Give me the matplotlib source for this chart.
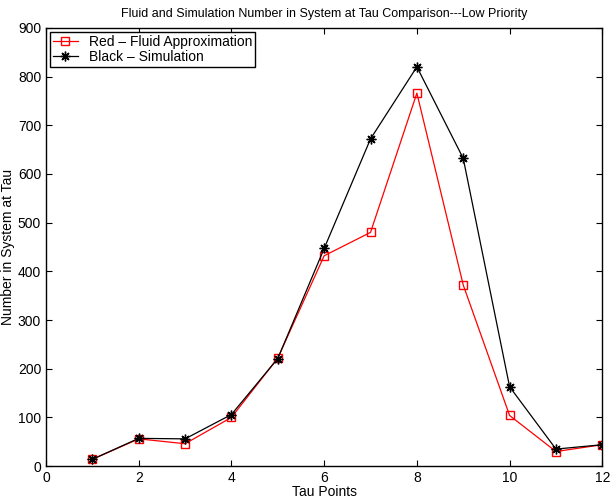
import matplotlib
matplotlib.use('Agg')
import matplotlib.pyplot as plt

plt.rcParams['font.family'] = ['Liberation Sans', 'DejaVu Sans']

tau = [1, 2, 3, 4, 5, 6, 7, 8, 9, 10, 11, 12]
fluid = [14, 56, 46, 100, 222, 432, 480, 766, 372, 104, 30, 44]
sim = [14, 57, 56, 106, 221, 447, 672, 820, 632, 163, 35, 44]

fig = plt.figure(figsize=(6.1, 4.98), dpi=100)
ax = fig.add_axes([0.0754, 0.064, 0.912, 0.88])

ax.plot(tau, fluid, color='red', marker='s', markerfacecolor='none', markersize=6,
        linewidth=0.9, label='Red \u2013 Fluid Approximation')
ax.plot(tau, sim, color='black', marker=(8, 2, 0), markersize=7, markeredgewidth=1.0,
        linewidth=0.9, label='Black \u2013 Simulation')

ax.set_xlim(0, 12)
ax.set_ylim(0, 900)
ax.set_xticks(range(0, 13, 2))
ax.set_yticks(range(0, 901, 100))
ax.tick_params(direction='in', top=True, right=True, labelsize=10, length=4)
for s in ax.spines.values():
    s.set_linewidth(1.0)

ax.set_title('Fluid and Simulation Number in System at Tau Comparison---Low Priority',
             fontsize=9, pad=8)
ax.set_xlabel('Tau Points', fontsize=10, labelpad=0)
ax.set_ylabel('Number in System at Tau', fontsize=10, labelpad=2)

leg = ax.legend(loc='upper left', fontsize=10, fancybox=False, framealpha=1,
                edgecolor='black', borderpad=0.2, labelspacing=0.1,
                handlelength=1.8, borderaxespad=0.3)
leg.get_frame().set_linewidth(1.0)

plt.savefig('out.png', dpi=100)
